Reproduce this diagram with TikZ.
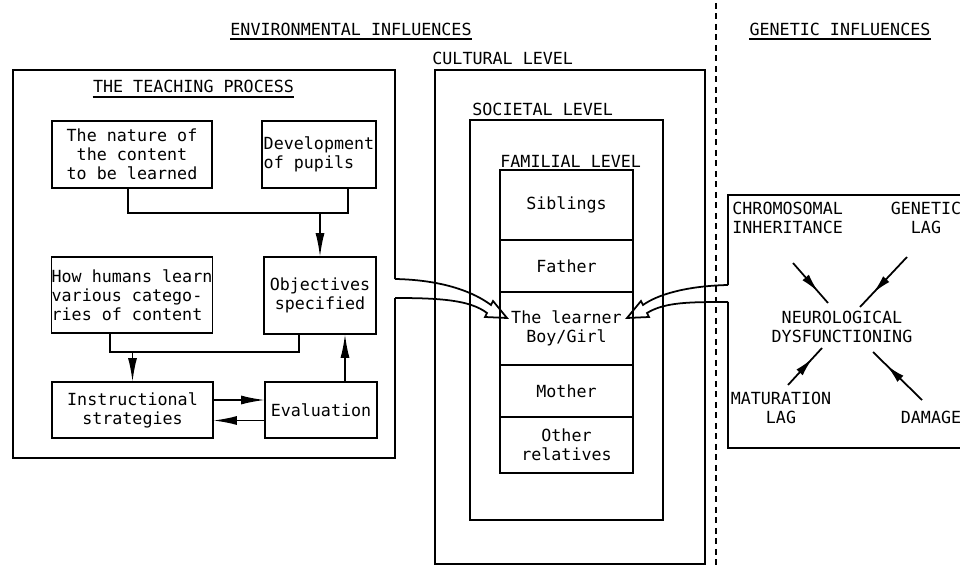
\documentclass[tikz,border=0pt]{standalone}
\usepackage{fontspec}
\setmainfont{DejaVu Sans Mono}
\usetikzlibrary{positioning,arrows.meta,decorations.markings}

\begin{document}
\begin{tikzpicture}[x=0.02cm, y=-0.02cm,
    font=\fontsize{9.5}{10.8}\selectfont,
    box/.style={draw, line width=1pt, align=center, inner sep=1pt, outer sep=0pt},
    cell/.style={box, minimum width=2.66cm},
    title/.style={inner sep=0pt},
    frame/.style={line width=1pt},
    link/.style={line width=1pt},
    flow/.style={-{Latex[length=4.8mm,width=1.8mm]}, line width=1pt},
    midarrow/.style={line width=1pt, postaction={decorate},
      decoration={markings, mark=at position 0.72 with {\arrow{Latex[length=3.8mm,width=1.7mm]}}}},
    hollow/.style={line width=1pt, line join=miter},
    divider/.style={line width=1.2pt, dash pattern=on 1.2mm off 0.9mm}
  ]
    \useasboundingbox (0,0) rectangle (960,567);

    % headings
    \node[title] (envt) at (351,29) {ENVIRONMENTAL INFLUENCES};
    \draw[link] ([yshift=-0.7mm]envt.south west) -- ([yshift=-0.7mm]envt.south east);
    \node[title] (gent) at (840,29) {GENETIC INFLUENCES};
    \draw[link] ([yshift=-0.7mm]gent.south west) -- ([yshift=-0.7mm]gent.south east);
    \draw[divider] (716,3) -- (716,567);

    % the teaching process
    \coordinate (tp1) at (395,279);
    \coordinate (tp2) at (395,298);
    \draw[frame] (tp1) |- (13,70) |- (395,458) -- (tp2);
    \node[title] (teacht) at (193.5,86) {THE TEACHING PROCESS};
    \draw[link] ([yshift=-0.9mm]teacht.south west) -- ([yshift=-0.9mm]teacht.south east);

    \node[box, minimum width=3.2cm, minimum height=1.34cm] (nature) at (132,154.5) {The nature of\\the content\\to be learned};
    \node[box, align=left, minimum width=2.24cm, minimum height=1.34cm] (develop) at (319,154.5) {Development\\of pupils};
    \node[box, align=left, inner xsep=0pt, minimum width=3.2cm, minimum height=1.52cm] (howlearn) at (132,295) {How humans learn\\various catego-\\ries of content};
    \node[box, minimum width=2.24cm, minimum height=1.54cm] (objectives) at (320,295.5) {Objectives\\specified};
    \node[box, minimum width=3.22cm, minimum height=1.12cm] (instr) at (132.5,410) {Instructional\\strategies};
    \node[box, minimum width=2.24cm, minimum height=1.12cm] (eval) at (321,410) {Evaluation};

    \coordinate (j1) at (348,213);
    \draw[link] ([xshift=-0.08cm]nature.south) |- (j1) -- (j1 |- develop.south);
    \draw[flow] (objectives.north |- j1) -- (objectives.north);
    \coordinate (j2) at (110,352);
    \coordinate (j3) at (299,352);
    \draw[link] (j2 |- howlearn.south) -- (j2) -- (j3) -- (j3 |- objectives.south);
    \draw[flow] (instr.north |- j2) -- (instr.north);
    \draw[flow] ([xshift=4.8mm]eval.north) -- ([xshift=4.8mm]eval.north |- objectives.south);
    \draw[flow] ([yshift=2mm]instr.east) -- ([yshift=2mm]instr.east -| eval.west);
    \draw[flow] ([yshift=-2.1mm]eval.west) -- ([yshift=-2.1mm]eval.west -| instr.east);

    % levels round the learner
    \node[box, minimum width=5.4cm, minimum height=9.88cm] (cultural) at (570,317) {};
    \node[box, minimum width=3.86cm, minimum height=8cm] (societal) at (566.5,320) {};
    \node[title, anchor=west] (cultt) at (432,58) {CULTURAL LEVEL};
    \node[title, anchor=west] (soct) at (472,109) {SOCIETAL LEVEL};
    \node[title, anchor=west] (famt) at (500,161) {FAMILIAL LEVEL};

    \node[cell, minimum height=1.4cm] (siblings) at (566.5,205) {Siblings};
    \node[cell, minimum height=1.04cm, below=0pt of siblings] (father) {Father};
    \node[cell, minimum height=1.46cm, below=0pt of father] (learner) {The learner\\Boy/Girl};
    \node[cell, minimum height=1.04cm, below=0pt of learner] (mother) {Mother};
    \node[cell, minimum height=1.12cm, below=0pt of mother] (others) {Other\\relatives};

    % genetic influences
    \coordinate (gp1) at (728,285);
    \coordinate (gp2) at (728,302);
    \draw[frame] (gp1) |- (975,195);
    \draw[frame] (gp2) |- (975,448);

    \node[title, align=left, anchor=west] (chrom) at (732,217.5) {CHROMOSOMAL\\INHERITANCE};
    \node[title, align=center] (genlag) at (926,217.5) {GENETIC\\LAG};
    \node[title, align=center] (neuro) at (842,327) {NEUROLOGICAL\\DYSFUNCTIONING};
    \node[title, align=center] (matur) at (781,407.5) {MATURATION\\LAG};
    \node[title] (damage) at (931,417) {DAMAGE};

    \coordinate (chromend) at (793,263);
    \coordinate (neuronw) at (828,303);
    \coordinate (genend) at (907,257);
    \coordinate (neurone) at (860,307);
    \coordinate (maturend) at (788,385);
    \coordinate (neurosw) at (822,348);
    \coordinate (damend) at (922,400);
    \coordinate (neurose) at (873,352);
    \draw[midarrow] (chromend) -- (neuronw);
    \draw[midarrow] (genend) -- (neurone);
    \draw[midarrow] (maturend) -- (neurosw);
    \draw[midarrow] (damend) -- (neurose);

    % hollow arrows into the learner
    \draw[hollow] (tp1) .. controls (445,280) and (475,293) .. (491,305) -- (493,301) -- (507,318)
      -- (485,317) -- (487,313) .. controls (470,300) and (440,298) .. (tp2);
    \draw[hollow] (gp1) .. controls (685,286) and (657,295) .. (643,305) -- (641,301) -- (627,318)
      -- (649,317) -- (647,313) .. controls (665,302) and (690,302) .. (gp2);
  \end{tikzpicture}
\end{document}
